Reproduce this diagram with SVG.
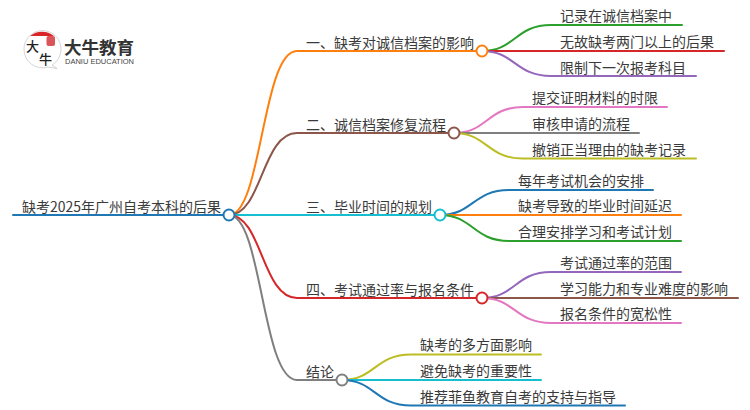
<svg xmlns="http://www.w3.org/2000/svg" width="750" height="410" viewBox="0 0 750 410">
<style>
text{font-family:"Noto Sans CJK SC","Noto Sans",sans-serif;font-size:14px;fill:#3a3a3a}
.c path{fill:none;stroke-width:2;stroke-linecap:round}
circle.n{fill:#fff;stroke-width:2}
.brush{font-size:13px;font-weight:500;fill:#222}
</style>
<rect width="750" height="410" fill="#fff"/>
<g id="logo">
<path d="M24 49a18.500 18.500 0 1 1 28 16l5 3.500-9-1.500a18.500 18.500 0 0 1-24-18z" fill="#fff" stroke="#c9c9c9" stroke-width="0.800"/>
<path d="M30 36a19 19 0 0 1 24 0z" fill="#d9242a"/>
<rect x="46.500" y="36" width="8.500" height="10" rx="2" fill="#d9555a"/>
<text class="brush" x="26" y="51">大</text>
<text class="brush" x="39" y="64">牛</text>
<text x="64" y="54" style="font-size:17.500px;font-weight:700;fill:#333">大牛教育</text>
<text x="65" y="64" textLength="69" lengthAdjust="spacingAndGlyphs" style="font-size:7px;font-family:'Liberation Sans',sans-serif;fill:#444">DANIU EDUCATION</text>
</g>
<g id="connectors" class="c">
<path d="M13 215H223" stroke="#1f78b4"/>
<path d="M229 215C262 215 262 51 297 51H482" stroke="#ff7f0e"/>
<path d="M229 215C262 215 262 133 297 133H454" stroke="#8c564b"/>
<path d="M229 215H440" stroke="#17becf"/>
<path d="M229 215C262 215 262 298 297 298H482" stroke="#d62728"/>
<path d="M229 215C262 215 262 380 297 380H342" stroke="#7f7f7f"/>
<path d="M482 51C515 51 515 25 551 25H682" stroke="#2ca02c"/>
<path d="M482 51H724" stroke="#d62728"/>
<path d="M482 51C515 51 515 76 551 76H696" stroke="#9467bd"/>
<path d="M454 133C487 133 487 107 523 107H667" stroke="#e377c2"/>
<path d="M454 133H639" stroke="#7f7f7f"/>
<path d="M454 133C487 133 487 158.500 523 158.500H696" stroke="#bcbd22"/>
<path d="M440 215C473 215 473 190 509 190H653" stroke="#1f78b4"/>
<path d="M440 215H681" stroke="#ff7f0e"/>
<path d="M440 215C473 215 473 241 509 241H681" stroke="#2ca02c"/>
<path d="M482 298C515 298 515 272 551 272H681" stroke="#9467bd"/>
<path d="M482 298H738" stroke="#8c564b"/>
<path d="M482 298C515 298 515 323 551 323H681" stroke="#e377c2"/>
<path d="M342 380C375 380 375 354.500 411 354.500H541" stroke="#bcbd22"/>
<path d="M342 380H541" stroke="#17becf"/>
<path d="M342 380C375 380 375 405.500 411 405.500H625" stroke="#1f78b4"/>
</g>
<g id="root"><text x="22" y="212">缺考2025年广州自考本科的后果</text><circle class="n" cx="229" cy="215" r="5.500" stroke="#1f78b4"/></g>
<g id="b1"><text x="306" y="48">一、缺考对诚信档案的影响</text><circle class="n" cx="482" cy="51" r="5.500" stroke="#ff7f0e"/></g>
<g id="b2"><text x="306" y="130">二、诚信档案修复流程</text><circle class="n" cx="454" cy="133" r="5.500" stroke="#8c564b"/></g>
<g id="b3"><text x="306" y="212">三、毕业时间的规划</text><circle class="n" cx="440" cy="215" r="5.500" stroke="#17becf"/></g>
<g id="b4"><text x="306" y="295">四、考试通过率与报名条件</text><circle class="n" cx="482" cy="298" r="5.500" stroke="#d62728"/></g>
<g id="b5"><text x="306" y="377">结论</text><circle class="n" cx="342" cy="380" r="5.500" stroke="#7f7f7f"/></g>
<g id="l11"><text x="560" y="21">记录在诚信档案中</text></g>
<g id="l12"><text x="560" y="47">无故缺考两门以上的后果</text></g>
<g id="l13"><text x="560" y="73">限制下一次报考科目</text></g>
<g id="l21"><text x="532" y="103">提交证明材料的时限</text></g>
<g id="l22"><text x="532" y="129">审核申请的流程</text></g>
<g id="l23"><text x="532" y="155">撤销正当理由的缺考记录</text></g>
<g id="l31"><text x="518" y="186">每年考试机会的安排</text></g>
<g id="l32"><text x="518" y="211">缺考导致的毕业时间延迟</text></g>
<g id="l33"><text x="518" y="237">合理安排学习和考试计划</text></g>
<g id="l41"><text x="560" y="268">考试通过率的范围</text></g>
<g id="l42"><text x="560" y="294">学习能力和专业难度的影响</text></g>
<g id="l43"><text x="560" y="319">报名条件的宽松性</text></g>
<g id="l51"><text x="420" y="350">缺考的多方面影响</text></g>
<g id="l52"><text x="420" y="376">避免缺考的重要性</text></g>
<g id="l53"><text x="420" y="402">推荐菲鱼教育自考的支持与指导</text></g>
</svg>
